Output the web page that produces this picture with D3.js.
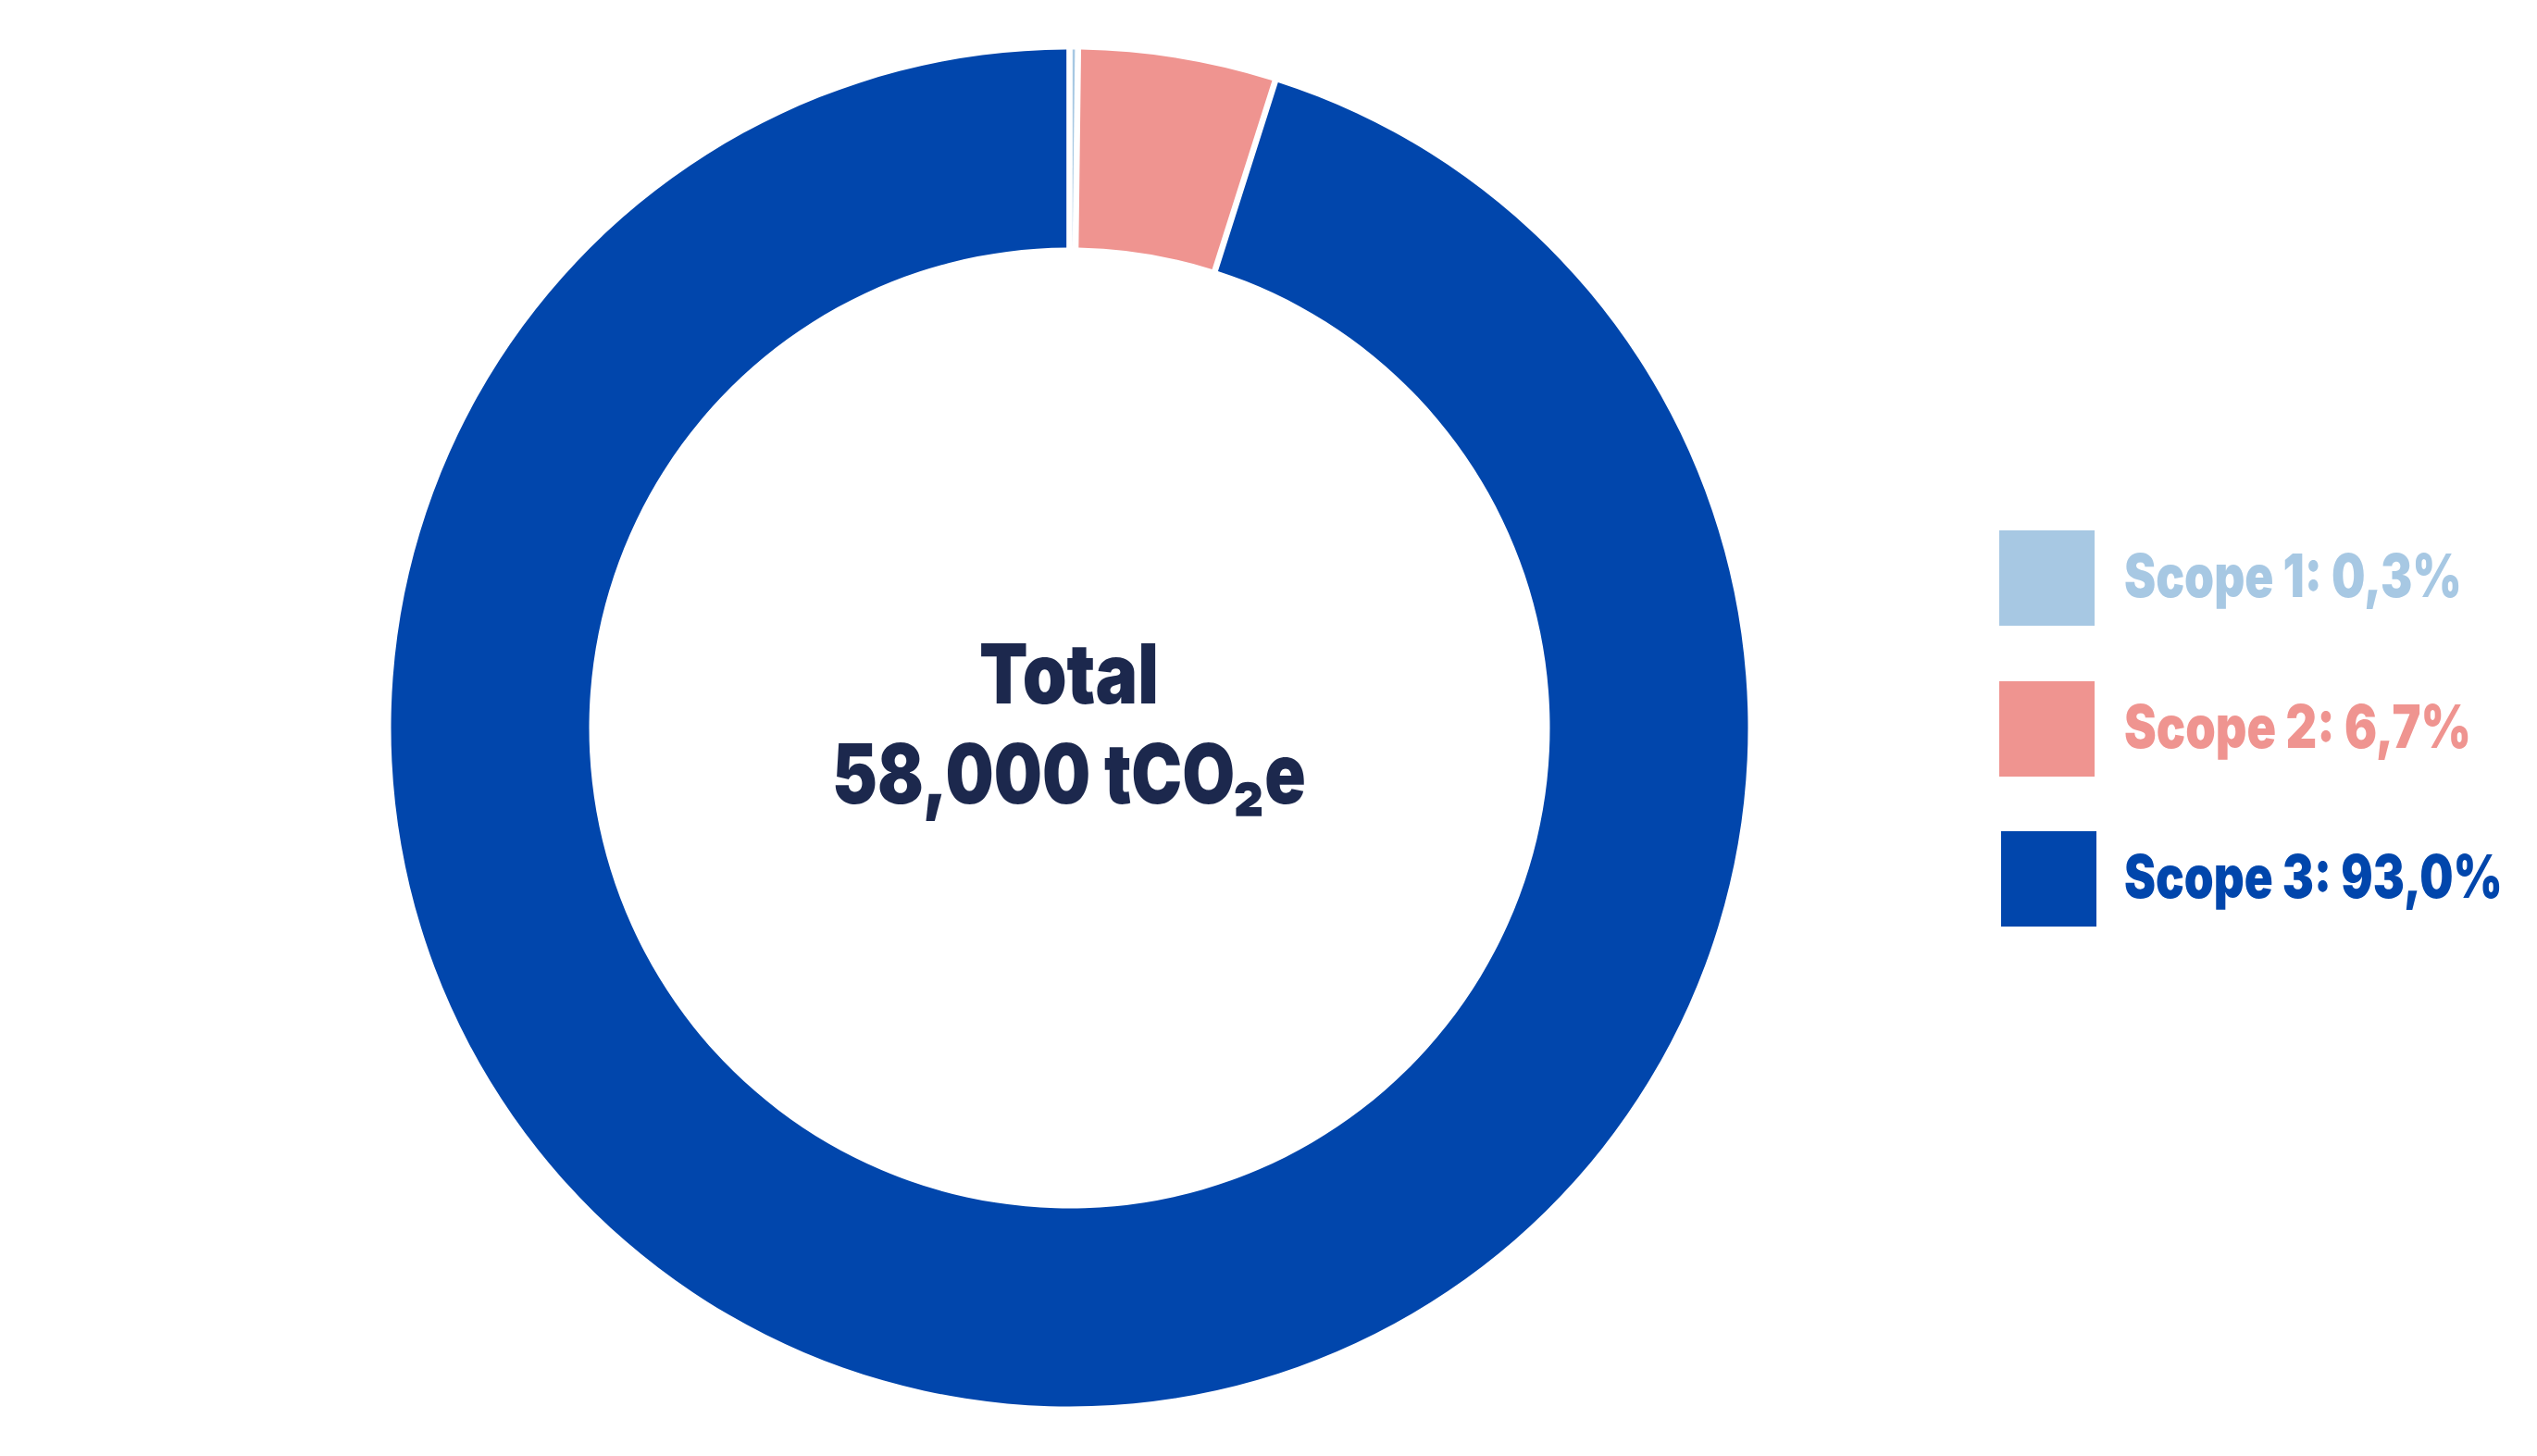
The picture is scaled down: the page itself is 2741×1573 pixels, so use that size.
<!DOCTYPE html>
<html>
<head>
<meta charset="utf-8">
<script src="https://cdn.jsdelivr.net/npm/d3@7"></script>
<style>
  html, body { margin: 0; padding: 0; background: #ffffff; }
  svg { display: block; }
  text { font-family: Inter, Lato, "Open Sans", sans-serif; font-weight: 900; }
</style>
</head>
<body>
<div id="chart"></div>
<script>
// ---- data ----
const categories = ["Scope 1", "Scope 2", "Scope 3"];
const sliceValues = [0.2, 4.7, 95.1];              // slice sizes as drawn in the picture
const labelPercents = ["0,3%", "6,7%", "93,0%"];  // percentages printed in the legend
const colors = ["#A7C8E3", "#EF9490", "#0146AC"];
const totalLine1 = "Total";
const totalLine2 = "58,000 tCO\u2082e";

const W = 2741, H = 1573;
const cx = 1155.5, cy = 786.5, rOuter = 733, rInner = 519;

const svg = d3.select("#chart").append("svg")
  .attr("width", W).attr("height", H);

const data = categories.map((c, i) => ({ cat: c, value: sliceValues[i], color: colors[i], label: labelPercents[i] }));

const pie = d3.pie().value(d => d.value).sort(null);
const arc = d3.arc().innerRadius(rInner).outerRadius(rOuter).padAngle(0.0074);

const g = svg.append("g").attr("transform", `translate(${cx},${cy})`);
g.selectAll("path").data(pie(data)).join("path")
  .attr("d", arc)
  .attr("fill", d => d.data.color);

// place a text at (x, y) and squeeze it horizontally to the width seen in the reference
function placeText(str, x, y, size, fill, w, anchor) {
  const t = svg.append("text")
    .attr("font-size", size).attr("fill", fill)
    .attr("text-anchor", anchor)
    .text(str);
  const cur = t.node().getComputedTextLength();
  const sx = w / cur;
  t.attr("transform", `translate(${x},${y}) scale(${sx},1)`);
  return t;
}

// center text
const navy = "#1C284D";
placeText(totalLine1, 1155, 760, 90, navy, 194, "middle");
placeText(totalLine2, 1155, 868, 90, navy, 512, "middle");

// legend
const legendY = [573, 736, 898];
const legendX = [2160, 2160, 2162];
const textW = [365, 375, 409];
data.forEach((d, i) => {
  svg.append("rect")
    .attr("x", legendX[i]).attr("y", legendY[i])
    .attr("width", 103).attr("height", 103)
    .attr("fill", d.color);
  placeText(`${d.cat}: ${d.label}`, 2295, legendY[i] + 72, 64, d.color, textW[i], "start");
});
</script>
</body>
</html>
